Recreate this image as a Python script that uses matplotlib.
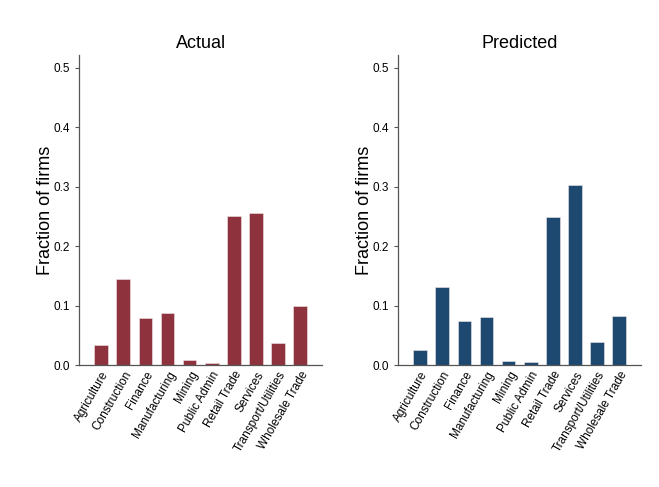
import matplotlib
matplotlib.use("Agg")
import matplotlib.pyplot as plt
import numpy as np

plt.rcParams['font.family'] = ['Liberation Sans', 'DejaVu Sans']

categories = ["Agriculture", "Construction", "Finance", "Manufacturing", "Mining",
              "Public Admin", "Retail Trade", "Services", "Transport/Utilities", "Wholesale Trade"]
actual = [0.033, 0.145, 0.079, 0.087, 0.008, 0.003, 0.251, 0.256, 0.037, 0.099]
predicted = [0.026, 0.131, 0.074, 0.080, 0.006, 0.005, 0.249, 0.303, 0.039, 0.082]
yticks = [0.0, 0.1, 0.2, 0.3, 0.4, 0.5]

fig = plt.figure(figsize=(6.59, 4.87), dpi=100)
axes_pos = [[0.120, 0.2505, 0.369, 0.636], [0.604, 0.2505, 0.369, 0.636]]
panels = [("Actual", actual, "#8E333D"), ("Predicted", predicted, "#1D4970")]

for pos, (title, vals, col) in zip(axes_pos, panels):
    ax = fig.add_axes(pos)
    x = np.arange(len(categories))
    ax.bar(x, vals, width=0.62, color=col, edgecolor="#f0e6e6", linewidth=0.4)
    ax.set_xlim(-1, len(categories))
    ax.set_ylim(0, 0.521)
    ax.set_yticks(yticks)
    ax.set_yticklabels([f"{t:.1f}" for t in yticks], fontsize=8.5)
    ax.set_xticks(x)
    ax.set_xticklabels(categories, rotation=60, ha="right", rotation_mode="anchor", fontsize=8.5)
    ax.tick_params(axis="x", length=0, pad=3)
    ax.tick_params(axis="y", length=3, color="#555555", width=0.8)
    for s in ["top", "right"]:
        ax.spines[s].set_visible(False)
    for s in ["left", "bottom"]:
        ax.spines[s].set_color("#555555")
        ax.spines[s].set_linewidth(0.9)
    ax.set_title(title, fontsize=13, pad=5)
    ax.set_ylabel("Fraction of firms", fontsize=13, labelpad=0)

fig.savefig("out.png", dpi=100, facecolor="white")
